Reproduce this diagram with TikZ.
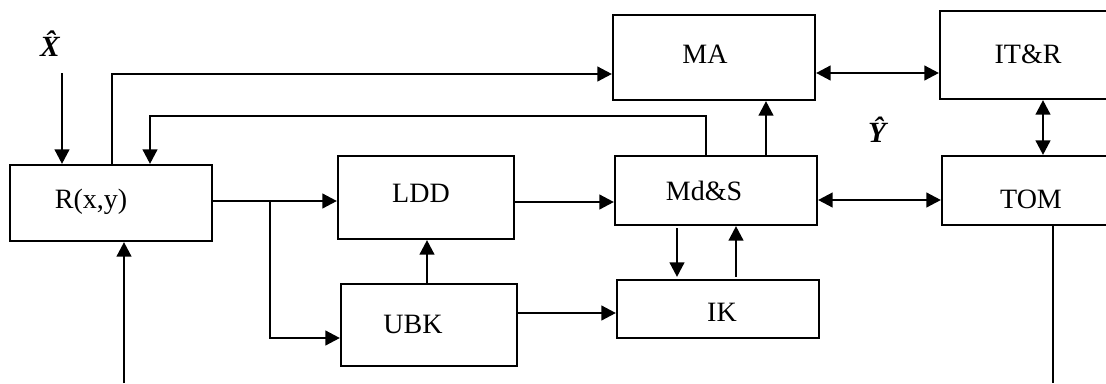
\documentclass[tikz,border=0pt]{standalone}
\usepackage{fontspec}
\setmainfont{Liberation Serif}
\usetikzlibrary{arrows.meta}
\tikzset{
  box/.style={draw, line width=1.6pt, inner sep=0pt},
  lbl/.style={anchor=base, inner sep=0pt, font=\fontsize{21}{25}\selectfont},
  hatlbl/.style={anchor=base, inner sep=0pt, font=\fontsize{22}{26}\selectfont\bfseries\itshape},
  conn/.style={line width=1.9pt},
  arr/.style={conn, -{Triangle[length=11pt,width=11pt]}},
  darr/.style={conn, {Triangle[length=11pt,width=11pt]}-{Triangle[length=11pt,width=11pt]}}
}
\begin{document}
\begin{tikzpicture}[x=0.75pt,y=-0.75pt]
\useasboundingbox (0,0) rectangle (1106,383);
\clip (0,0) rectangle (1106,383);
% boxes
\node[box, minimum width=151.5pt, minimum height=57pt]    (R)   at (111,203)   {};
\node[box, minimum width=132pt,   minimum height=62.25pt] (LDD) at (426,197.5) {};
\node[box, minimum width=132pt,   minimum height=61.5pt]  (UBK) at (429,325)   {};
\node[box, minimum width=151.5pt, minimum height=51.75pt] (Md)  at (716,190.5) {};
\node[box, minimum width=151.5pt, minimum height=63.75pt] (MA)  at (714,57.5)  {};
\node[box, minimum width=151.5pt, minimum height=43.5pt]  (IK)  at (718,309)   {};
\node[box, minimum width=142.5pt, minimum height=66pt]    (ITR) at (1035,55)   {};
\node[box, minimum width=141pt,   minimum height=51.75pt] (TOM) at (1036,190.5) {};
% texts
\node[lbl] (Rt)   at (91,208)  {R(x,y)};
\node[lbl] (LDDt) at (421,202) {LDD};
\node[lbl] (UBKt) at (413,333) {UBK};
\node[lbl] (Mdt)  at (704,200) {Md\&S};
\node[lbl] (MAt)  at (705,63)  {MA};
\node[lbl] (IKt)  at (722,321) {IK};
\node[lbl] (ITRt) at (1028,63) {IT\&R};
\node[lbl] (TOMt) at (1031,208) {TOM};
\node[hatlbl] (Xh) at (50,56)   {\^{X}};
\node[hatlbl] (Yh) at (877,142) {\^{Y}};
% helper coordinates
\coordinate (xin) at (62,73);
\coordinate (c1) at (112,74);
\coordinate (c2) at (150,116);
\coordinate (c3) at (706,116);
\coordinate (c4) at (124,383);
\coordinate (c5) at (270,201);
\coordinate (c6) at (270,338);
\coordinate (c7) at (427,260);
\coordinate (c8) at (560,202);
\coordinate (c9) at (766,130);
\coordinate (c10) at (566,313);
\coordinate (c11) at (677,250);
\coordinate (c12) at (736,250);
\coordinate (c13) at (870,73);
\coordinate (c14) at (1043,128);
\coordinate (c15) at (870,200);
\coordinate (c16) at (1053,383);
% connectors
\draw[arr] (xin) -- (xin |- R.north);
\draw[arr] (c1 |- R.north) -- (c1) -- (c1 -| MA.west);
\draw[arr] (c3 |- Md.north) -- (c3) -- (c2) -- (c2 |- R.north);
\draw[arr] (c4) -- (c4 |- R.south);
\draw[arr] (c5 -| R.east) -- (c5 -| LDD.west);
\draw[arr] (c5) -- (c6) -- (c6 -| UBK.west);
\draw[arr] (c7 |- UBK.north) -- (c7 |- LDD.south);
\draw[arr] (c8 -| LDD.east) -- (c8 -| Md.west);
\draw[arr] (c9 |- Md.north) -- (c9 |- MA.south);
\draw[arr] (c10 -| UBK.east) -- (c10 -| IK.west);
\draw[arr] ([yshift=-1.5pt]c11 |- Md.south) -- ([yshift=1.5pt]c11 |- IK.north);
\draw[arr] ([yshift=1.5pt]c12 |- IK.north) -- (c12 |- Md.south);
\draw[darr] (c13 -| MA.east) -- (c13 -| ITR.west);
\draw[darr] (c14 |- ITR.south) -- (c14 |- TOM.north);
\draw[darr] (c15 -| Md.east) -- (c15 -| TOM.west);
\draw[conn] (c16 |- TOM.south) -- (c16);
\end{tikzpicture}
\end{document}
